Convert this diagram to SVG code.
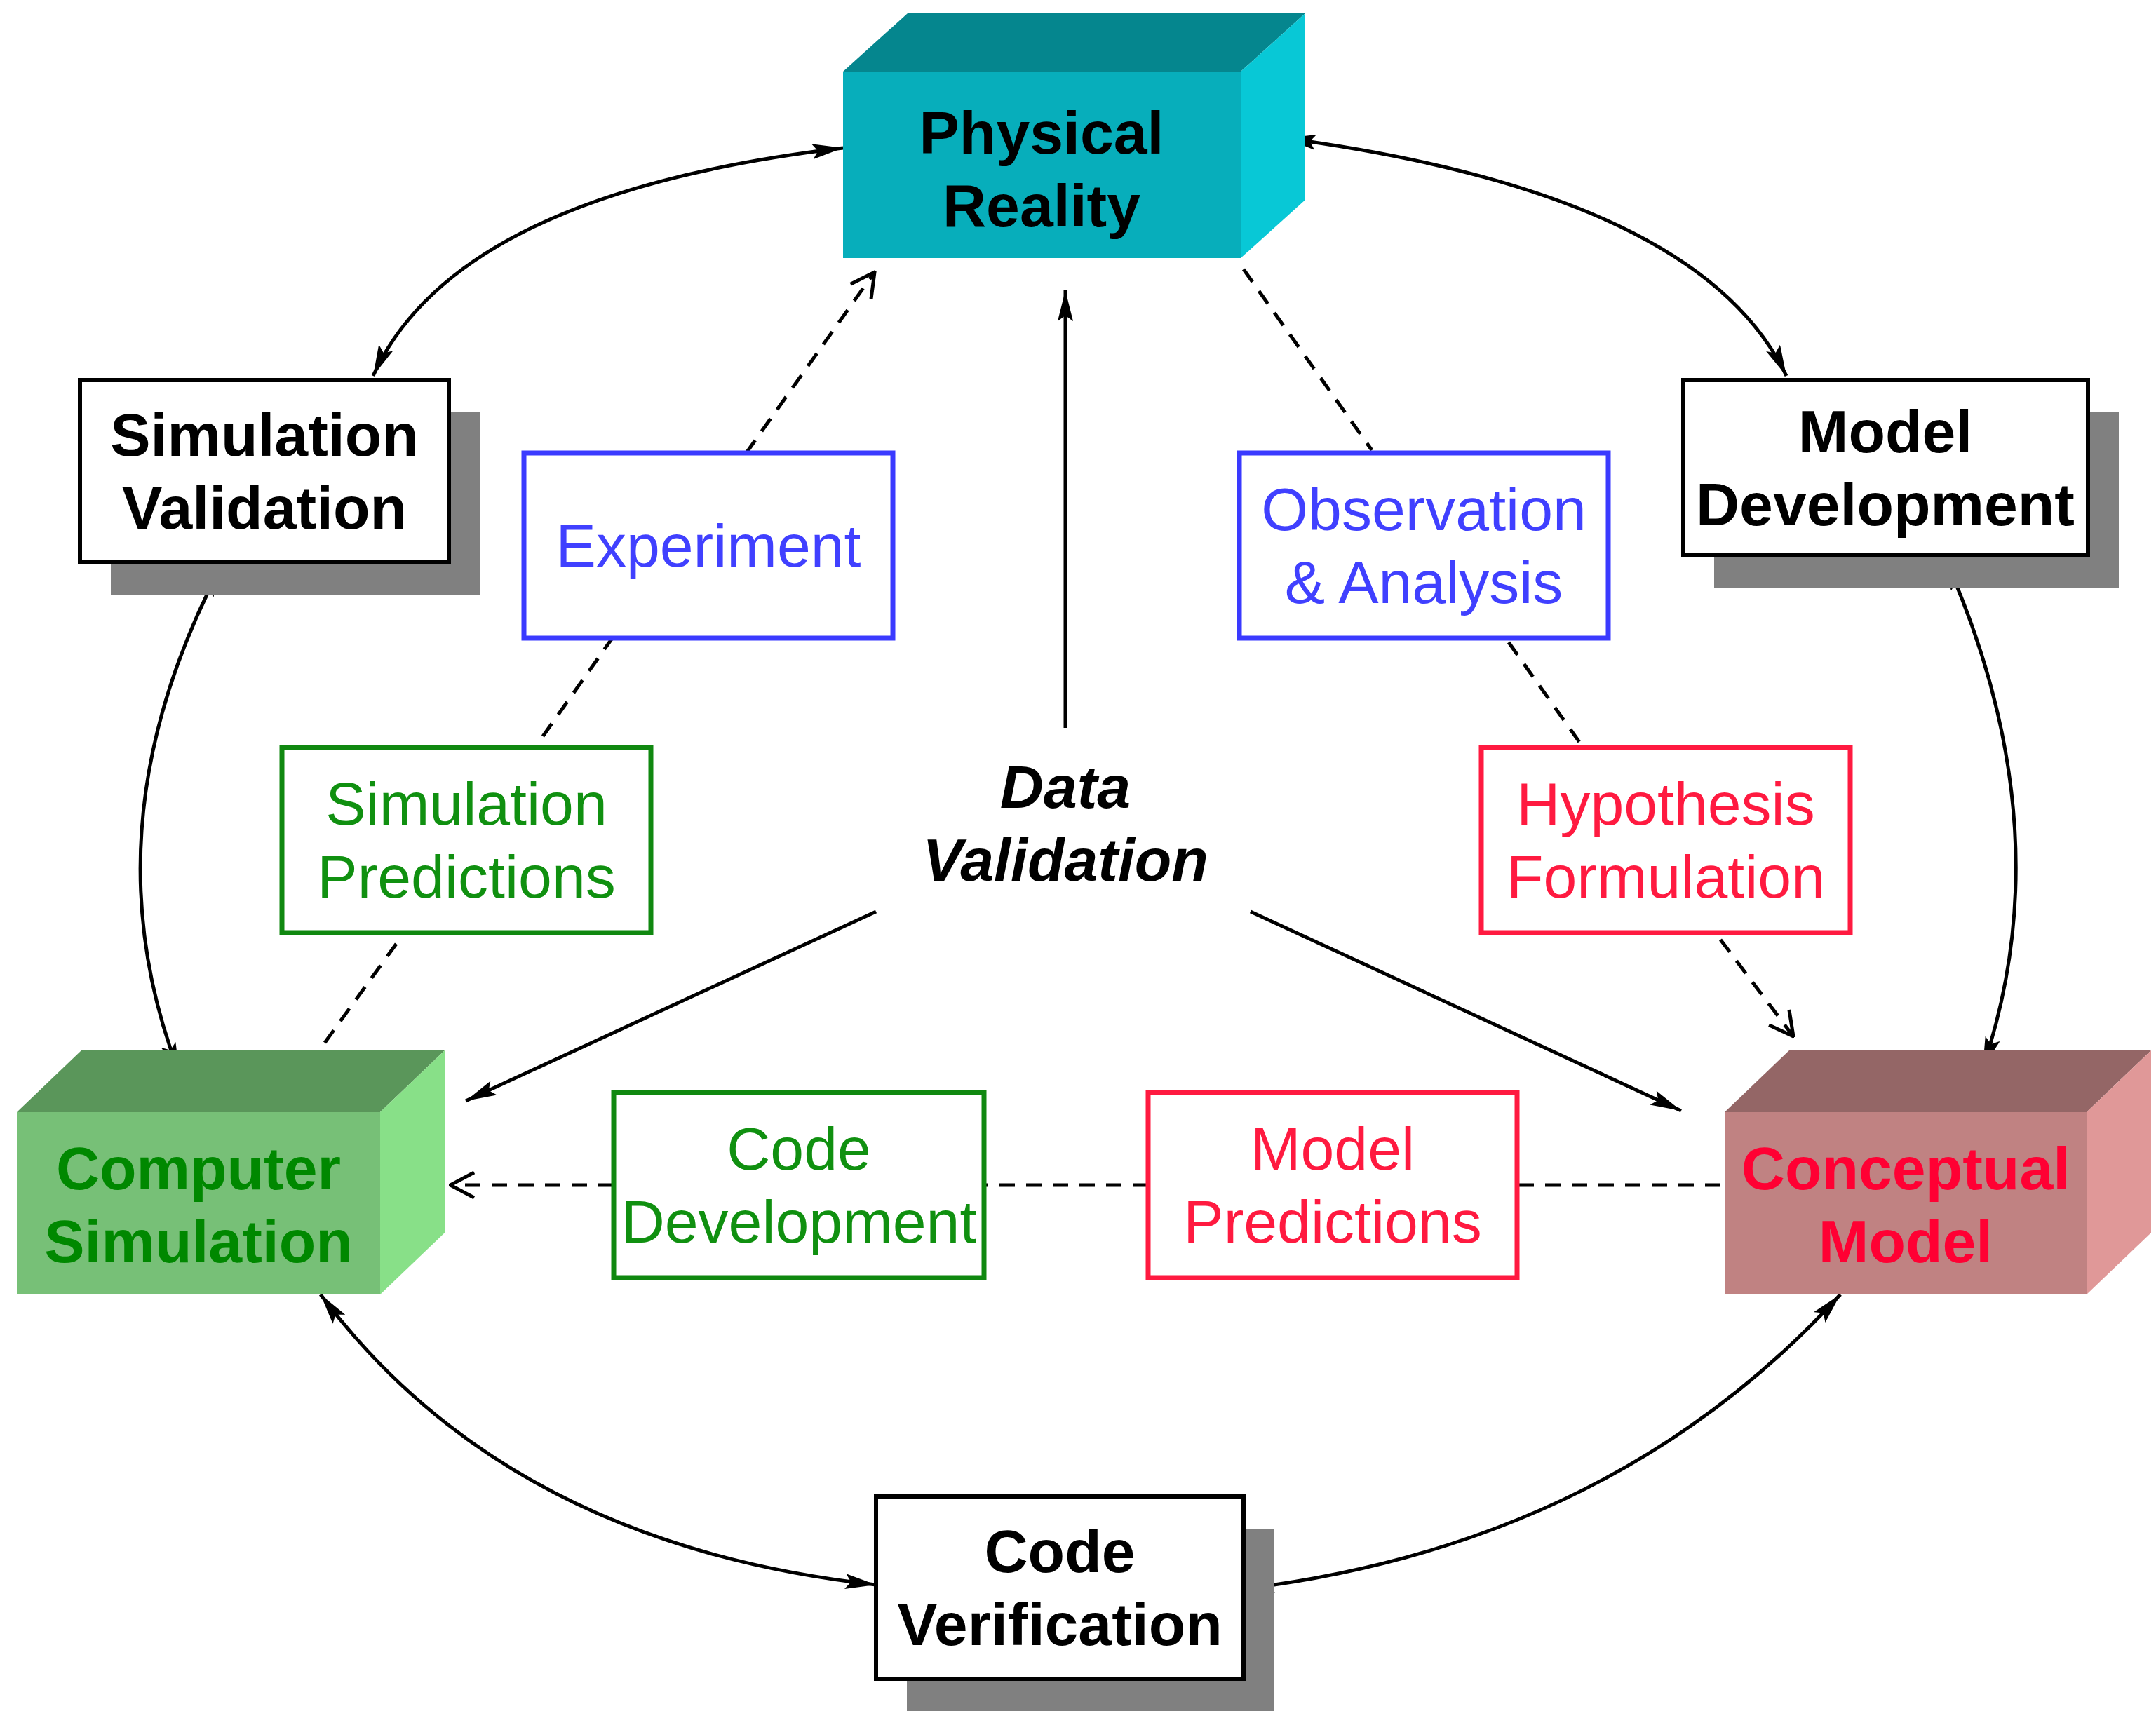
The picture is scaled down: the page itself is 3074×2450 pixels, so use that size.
<svg xmlns="http://www.w3.org/2000/svg" width="3074" height="2450" viewBox="0 0 3074 2450">
<style>
text{font-family:"Liberation Sans",Arial,sans-serif;font-size:86px;text-anchor:middle}
.b{font-weight:bold}
.wb{fill:#fff;stroke:#000;stroke-width:6}
.sh{fill:#808080}
.c{fill:none;stroke:#000;stroke-width:5}
.d{fill:none;stroke:#000;stroke-width:5;stroke-dasharray:22 16}
.bl{fill:#fff;stroke:#3a3aff;stroke-width:7}
.gr{fill:#fff;stroke:#108810;stroke-width:7}
.rd{fill:#fff;stroke:#ff1a40;stroke-width:7}
</style>
<defs>
<marker id="a" viewBox="0 0 44 22" refX="44" refY="11" markerWidth="44" markerHeight="22" markerUnits="userSpaceOnUse" orient="auto-start-reverse"><path d="M0,0 L44,11 L0,22 L8,11 z" fill="#000"/></marker>
<marker id="o" viewBox="0 0 40 44" refX="38" refY="22" markerWidth="40" markerHeight="44" markerUnits="userSpaceOnUse" orient="auto"><path d="M4,4 L38,22 L4,40" fill="none" stroke="#000" stroke-width="5"/></marker>
</defs>
<rect width="3074" height="2450" fill="#fff"/>
<g id="connectors">
<path class="c" d="M532,536 Q650,276 1202,211" marker-start="url(#a)" marker-end="url(#a)"/>
<path class="c" d="M1832,197 Q2423,276 2547,536" marker-start="url(#a)" marker-end="url(#a)"/>
<path class="c" d="M315,808 Q120,1180 256,1531" marker-start="url(#a)" marker-end="url(#a)"/>
<path class="c" d="M2774,798 Q2943,1180 2827,1523" marker-start="url(#a)" marker-end="url(#a)"/>
<path class="c" d="M457,1846 Q723,2202 1249,2260" marker-start="url(#a)" marker-end="url(#a)"/>
<path class="c" d="M2624,1846 Q2299,2202 1773,2266" marker-start="url(#a)" marker-end="url(#a)"/>
<path class="c" d="M1519,1038 L1519,414" marker-end="url(#a)"/>
<path class="c" d="M1249,1300 L664,1570" marker-end="url(#a)"/>
<path class="c" d="M1783,1300 L2397,1584" marker-end="url(#a)"/>
<path class="d" d="M1064,646 L1247,388" marker-end="url(#o)"/>
<path class="d" d="M774,1050 L873,910"/>
<path class="d" d="M565,1346 L463,1487"/>
<path class="d" d="M1773,384 L1956,642"/>
<path class="d" d="M2151,916 L2256,1064"/>
<path class="d" d="M2453,1340 L2557,1478" marker-end="url(#o)"/>
<path class="d" d="M2453,1690 L2163,1690"/>
<path class="d" d="M1637,1690 L1403,1690"/>
<path class="d" d="M875,1690 L642,1690" marker-end="url(#o)"/>
</g>
<g id="physical-reality">
<polygon points="1202,102 1294,19 1861,19 1769,102" fill="#05868e"/>
<polygon points="1769,102 1861,19 1861,285 1769,368" fill="#08c8d6"/>
<rect x="1202" y="102" width="567" height="266" fill="#07aebb"/>
<text class="b" x="1485" y="219">Physical</text>
<text class="b" x="1485" y="323">Reality</text>
</g>
<g id="computer-simulation">
<polygon points="24,1586 116,1498 634,1498 542,1586" fill="#5a965a"/>
<polygon points="542,1586 634,1498 634,1758 542,1846" fill="#88e088"/>
<rect x="24" y="1586" width="518" height="260" fill="#77c077"/>
<text class="b" x="283" y="1696" fill="#008800">Computer</text>
<text class="b" x="283" y="1800" fill="#008800">Simulation</text>
</g>
<g id="conceptual-model">
<polygon points="2459,1586 2551,1498 3067,1498 2975,1586" fill="#946666"/>
<polygon points="2975,1586 3067,1498 3067,1758 2975,1846" fill="#e09898"/>
<rect x="2459" y="1586" width="516" height="260" fill="#c08282"/>
<text class="b" x="2717" y="1696" fill="#ff0033">Conceptual</text>
<text class="b" x="2717" y="1800" fill="#ff0033">Model</text>
</g>
<g id="simulation-validation">
<rect class="sh" x="158" y="588" width="526" height="260"/>
<rect class="wb" x="114" y="542" width="526" height="260"/>
<text class="b" x="377" y="650">Simulation</text>
<text class="b" x="377" y="754">Validation</text>
</g>
<g id="model-development">
<rect class="sh" x="2444" y="588" width="577" height="250"/>
<rect class="wb" x="2400" y="542" width="577" height="250"/>
<text class="b" x="2688" y="645">Model</text>
<text class="b" x="2688" y="749">Development</text>
</g>
<g id="code-verification">
<rect class="sh" x="1293" y="2180" width="524" height="260"/>
<rect class="wb" x="1249" y="2134" width="524" height="260"/>
<text class="b" x="1511" y="2242">Code</text>
<text class="b" x="1511" y="2346">Verification</text>
</g>
<g id="experiment">
<rect class="bl" x="747" y="646" width="526" height="264"/>
<text x="1010" y="808" fill="#4040ff">Experiment</text>
</g>
<g id="observation-analysis">
<rect class="bl" x="1767" y="646" width="526" height="264"/>
<text x="2030" y="756" fill="#4040ff">Observation</text>
<text x="2030" y="860" fill="#4040ff">&amp; Analysis</text>
</g>
<g id="simulation-predictions">
<rect class="gr" x="402" y="1066" width="526" height="264"/>
<text x="665" y="1176" fill="#109010">Simulation</text>
<text x="665" y="1280" fill="#109010">Predictions</text>
</g>
<g id="hypothesis-formulation">
<rect class="rd" x="2112" y="1066" width="526" height="264"/>
<text x="2375" y="1176" fill="#ff1a40">Hypothesis</text>
<text x="2375" y="1280" fill="#ff1a40">Formulation</text>
</g>
<g id="code-development">
<rect class="gr" x="875" y="1558" width="528" height="264"/>
<text x="1139" y="1668" fill="#109010">Code</text>
<text x="1139" y="1772" fill="#109010">Development</text>
</g>
<g id="model-predictions">
<rect class="rd" x="1637" y="1558" width="526" height="264"/>
<text x="1900" y="1668" fill="#ff1a40">Model</text>
<text x="1900" y="1772" fill="#ff1a40">Predictions</text>
</g>
<g id="data-validation">
<text class="b" x="1519" y="1152" font-style="italic">Data</text>
<text class="b" x="1519" y="1256" font-style="italic">Validation</text>
</g>
</svg>
